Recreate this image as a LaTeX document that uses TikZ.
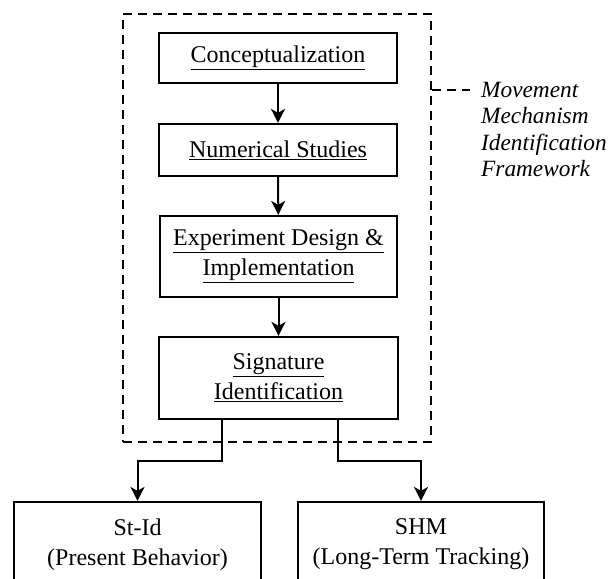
\documentclass[tikz,border=0pt]{standalone}
\usepackage{fontspec}
\setmainfont{Liberation Serif}
\usetikzlibrary{arrows.meta,positioning}
\begin{document}
\begin{tikzpicture}[x=1pt,y=-1pt,
  stepbox/.style={draw,line width=2.2pt,inner sep=0pt,align=center,
    font=\fontsize{24}{30}\selectfont},
  frame/.style={draw,line width=2pt,dash pattern=on 9pt off 6pt},
  arr/.style={line width=2pt,-{Stealth[length=14pt,width=14pt,inset=4pt]}}]
\clip (0,0) rectangle (614,579);
\fill[white] (0,0) rectangle (614,579);
\node[frame,minimum width=308pt,minimum height=428pt,inner sep=0pt] (fw) at (277,228) {};
\node[stepbox,minimum width=238pt,minimum height=50pt] (b1) at (278,58) {\underline{Conceptualization}};
\node[stepbox,minimum width=238pt,minimum height=52pt] (b2) at (278,150) {\underline{Numerical Studies}};
\node[stepbox,minimum width=237pt,minimum height=81pt] (b3) at (278.5,256.5) {\underline{Experiment Design \&}\\\underline{Implementation}};
\node[stepbox,minimum width=239pt,minimum height=82pt] (b4) at (278.5,378) {\underline{Signature}\\\underline{Identification}};
\node[stepbox,minimum width=247pt,minimum height=85pt] (l) at (137.5,544.5) {St-Id\\(Present Behavior)};
\node[stepbox,minimum width=246pt,minimum height=85pt] (r) at (421,544.5) {SHM\\(Long-Term Tracking)};
\node[anchor=west,inner sep=0pt,align=left,font=\fontsize{23.3}{26.3}\selectfont\itshape] (lab) at (481,129.5)
  {Movement\\Mechanism\\Identification\\Framework};
\coordinate (le) at (470,90);
\draw[arr] (b1) -- (b2);
\draw[arr] (b2) -- (b3);
\draw[arr] (b3) -- (b4);
\draw[arr] ([xshift=-57pt]b4.south) -- ++(0,41) -| (l.north);
\draw[arr] ([xshift=59pt]b4.south) -- ++(0,41) -| (r.north);
\draw[frame] (fw.east |- le) -- (le);
\end{tikzpicture}
\end{document}
